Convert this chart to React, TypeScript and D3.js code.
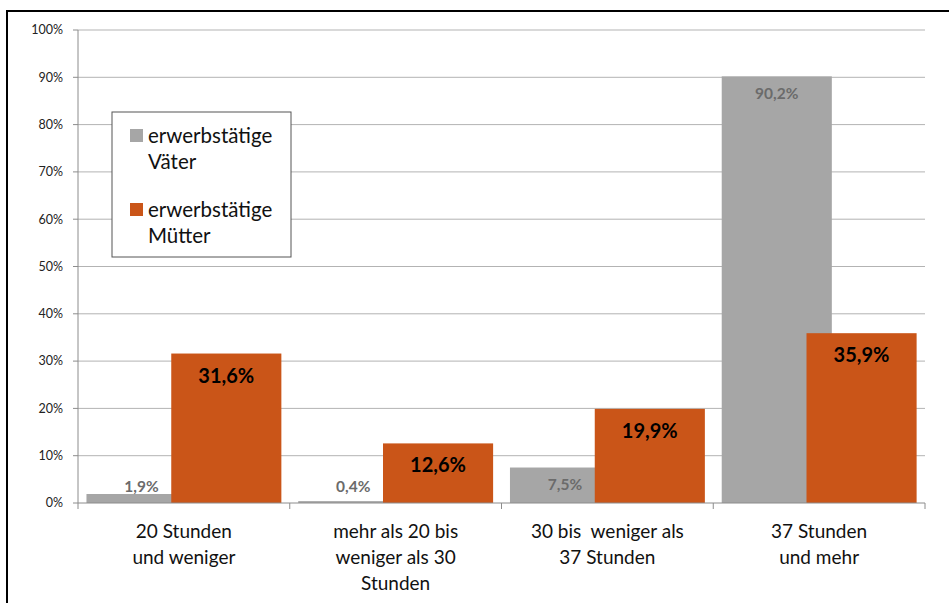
import React from "react";
import * as d3 from "d3";

const categories: string[][] = [
  ["20 Stunden", "und weniger"],
  ["mehr als 20 bis", "weniger als 30", "Stunden"],
  ["30 bis  weniger als", "37 Stunden"],
  ["37 Stunden", "und mehr"],
];
const vaeter: number[] = [1.9, 0.4, 7.5, 90.2];
const muetter: number[] = [31.6, 12.6, 19.9, 35.9];
const seriesNames: string[][] = [
  ["erwerbstätige", "Väter"],
  ["erwerbstätige", "Mütter"],
];
const yTicks: number[] = [0, 10, 20, 30, 40, 50, 60, 70, 80, 90, 100];

const W = 949;
const H = 603;
const GREY = "#a6a6a6";
const ORANGE = "#ca5518";
const FONT = "Lato, 'Open Sans', sans-serif";

const fmt = (v: number) => v.toFixed(1).replace(".", ",") + "%";

export default function App() {
  const left = 78;
  const right = 925;
  const top = 30;
  const bottom = 503;
  const y = d3.scaleLinear().domain([0, 100]).range([bottom, top]);
  const x = d3
    .scaleBand<number>()
    .domain(categories.map((_, i) => i))
    .range([left, right])
    .paddingInner(0)
    .paddingOuter(0);
  const bw = x.bandwidth();
  const pad = bw * 0.04;
  const barW = bw * 0.52;
  const step = barW * 0.77;

  return (
    <svg
      width={W}
      height={H}
      style={{ position: "absolute", left: 0, top: 0, background: "#fff" }}
    >
      <rect x={0} y={0} width={W} height={H} fill="#fff" />
      {/* outer frame */}
      <rect x={7} y={11} width={W + 10} height={H + 10} fill="none" stroke="#000" strokeWidth={2} />
      {/* gridlines */}
      {yTicks.map((t) => (
        <g key={t}>
          {t > 0 && (
            <line x1={left} x2={right} y1={y(t)} y2={y(t)} stroke="#b3b3b3" strokeWidth={1} />
          )}
          <line x1={left - 5} x2={left} y1={y(t)} y2={y(t)} stroke="#8c8c8c" strokeWidth={1} />
          <text
            x={63}
            y={y(t)}
            dy="0.35em"
            textAnchor="end"
            fontFamily={FONT}
            fontSize={12.5}
            fill="#222"
          >
            {t}%
          </text>
        </g>
      ))}
      {/* bars */}
      {categories.map((_, i) => {
        const x0 = (x(i) as number) + pad;
        const gx = x0;
        const ox = x0 + step;
        return (
          <g key={i}>
            <rect x={gx} y={y(vaeter[i])} width={barW} height={bottom - y(vaeter[i])} fill={GREY} />
            <rect x={ox} y={y(muetter[i])} width={barW} height={bottom - y(muetter[i])} fill={ORANGE} />
            <text
              x={gx + barW / 2}
              y={Math.min(y(vaeter[i]) + 17, 487)}
              dy="0.35em"
              textAnchor="middle"
              fontFamily={FONT}
              fontWeight="bold"
              fontSize={15.5}
              fill="#6b6b6b"
            >
              {fmt(vaeter[i])}
            </text>
            <text
              x={ox + barW / 2}
              y={y(muetter[i]) + 22}
              dy="0.35em"
              textAnchor="middle"
              fontFamily={FONT}
              fontWeight="bold"
              fontSize={20}
              fill="#000"
            >
              {fmt(muetter[i])}
            </text>
          </g>
        );
      })}
      {/* axes */}
      <line x1={left} x2={left} y1={top} y2={bottom} stroke="#8c8c8c" strokeWidth={1} />
      <line x1={left} x2={right} y1={bottom} y2={bottom} stroke="#8c8c8c" strokeWidth={1} />
      {categories.map((_, i) => (
        <line
          key={"t" + i}
          x1={x(i) as number}
          x2={x(i) as number}
          y1={bottom}
          y2={bottom + 6}
          stroke="#8c8c8c"
        />
      ))}
      <line x1={right} x2={right} y1={bottom} y2={bottom + 6} stroke="#8c8c8c" />
      {/* category labels */}
      {categories.map((lines, i) => (
        <text
          key={"c" + i}
          textAnchor="middle"
          fontFamily={FONT}
          fontSize={19}
          fill="#111"
          style={{ whiteSpace: "pre" }}
        >
          {lines.map((l, j) => (
            <tspan key={j} x={(x(i) as number) + bw / 2} y={531 + j * 26} dy="0.35em">
              {l}
            </tspan>
          ))}
        </text>
      ))}
      {/* legend */}
      <rect x={112} y={112} width={179} height={145} fill="#fff" stroke="#555" strokeWidth={1} />
      {seriesNames.map((lines, i) => (
        <g key={"l" + i} transform={`translate(0, ${i * 74})`}>
          <rect x={130} y={129} width={13} height={13} fill={i === 0 ? GREY : ORANGE} />
          {lines.map((l, j) => (
            <text
              key={j}
              x={148}
              y={136 + j * 26}
              dy="0.35em"
              fontFamily={FONT}
              fontSize={20.5}
              fill="#111"
            >
              {l}
            </text>
          ))}
        </g>
      ))}
    </svg>
  );
}
